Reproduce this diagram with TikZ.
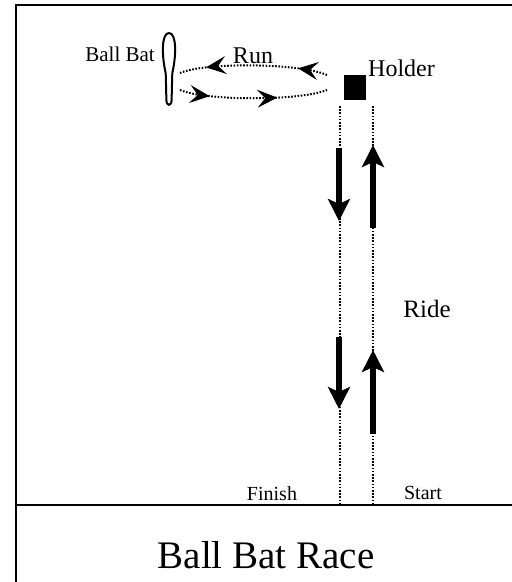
\documentclass[tikz,border=0pt]{standalone}
\usepackage{fontspec}
\setmainfont{Liberation Serif}
\usetikzlibrary{arrows.meta,decorations.markings}
\tikzset{
  frameline/.style={line width=2pt},
  dotline/.style={line width=2pt, dash pattern=on 1.6pt off 1.6pt},
  bigarrow/.style={line width=6.5pt, -{Stealth[length=22pt,width=22pt,inset=5pt]}},
  runhead/.style={solid, line width=1pt},
  lbl/.style={inner sep=0pt, font=\fontsize{20}{22}\selectfont},
  biglbl/.style={inner sep=0pt, font=\fontsize{24}{26}\selectfont},
}
\begin{document}
\begin{tikzpicture}[x=1pt,y=-1pt]
\useasboundingbox (0,0) rectangle (512,582);
\clip (0,0) rectangle (512,582);
\fill[white] (0,0) rectangle (512,582);
% frame
\draw[frameline] (16,600) -- (16,5) -- (530,5);
\draw[frameline] (16,505) -- (530,505);
% bat
\draw[line width=2pt] (169,33) .. controls (176.5,33) and (176.5,55) .. (172.3,73) -- (171.6,100) .. controls (171.6,106.5) and (166.4,106.5) .. (166.4,100) -- (165.7,73) .. controls (161.5,55) and (161.5,33) .. (169,33);
\node[inner sep=0pt, font=\fontsize{21}{23}\selectfont, anchor=base east] (batlbl) at (155,61.5) {Ball Bat};
% holder
\node[fill=black, minimum width=22pt, minimum height=25pt, inner sep=0pt] (holder) at (355,87.5) {};
\node[biglbl, anchor=base west] (holderlbl) at (368,76) {Holder};
\node[biglbl, anchor=base] (runlbl) at (253,63) {Run};
% run loop
\coordinate (ul) at (180,73);
\coordinate (ur) at (327,75);
\coordinate (ll) at (180,90);
\coordinate (lr) at (327,90);
\draw[dotline, postaction={decorate}, decoration={markings,
   mark=at position 0.2 with {\arrow[runhead]{Stealth[length=20pt,width=18pt,inset=8pt]}},
   mark=at position 0.82 with {\arrow[runhead]{Stealth[length=20pt,width=18pt,inset=8pt]}}}]
  (ur) .. controls (300,63) and (205,62) .. (ul);
\draw[dotline, postaction={decorate}, decoration={markings,
   mark=at position 0.205 with {\arrow[runhead]{Stealth[length=20pt,width=18pt,inset=8pt]}},
   mark=at position 0.66 with {\arrow[runhead]{Stealth[length=20pt,width=18pt,inset=8pt]}}}]
  (ll) .. controls (205,101) and (300,101) .. (lr);
% lanes
\coordinate (ltop) at (340,106);
\coordinate (lbot) at (340,504);
\coordinate (rtop) at (373,106);
\coordinate (rbot) at (373,504);
\draw[dotline] (ltop) -- (lbot);
\draw[dotline] (rtop) -- (rbot);
% ride arrows
\coordinate (a1s) at (339,148);
\coordinate (a1e) at (339,221);
\coordinate (a2s) at (373,228);
\coordinate (a2e) at (373,145);
\coordinate (a3s) at (339,337);
\coordinate (a3e) at (339,409);
\coordinate (a4s) at (373,434);
\coordinate (a4e) at (373,350);
\draw[bigarrow] (a1s) -- (a1e);
\draw[bigarrow] (a2s) -- (a2e);
\draw[bigarrow] (a3s) -- (a3e);
\draw[bigarrow] (a4s) -- (a4e);
\node[biglbl, font=\fontsize{25}{27}\selectfont] (ridelbl) at (427,309) {Ride};
\node[lbl] (finishlbl) at (272,494) {Finish};
\node[lbl] (startlbl) at (423,493) {Start};
\node[inner sep=0pt, font=\fontsize{39}{42}\selectfont, anchor=base] (title) at (266,568) {Ball Bat Race};
\end{tikzpicture}
\end{document}
